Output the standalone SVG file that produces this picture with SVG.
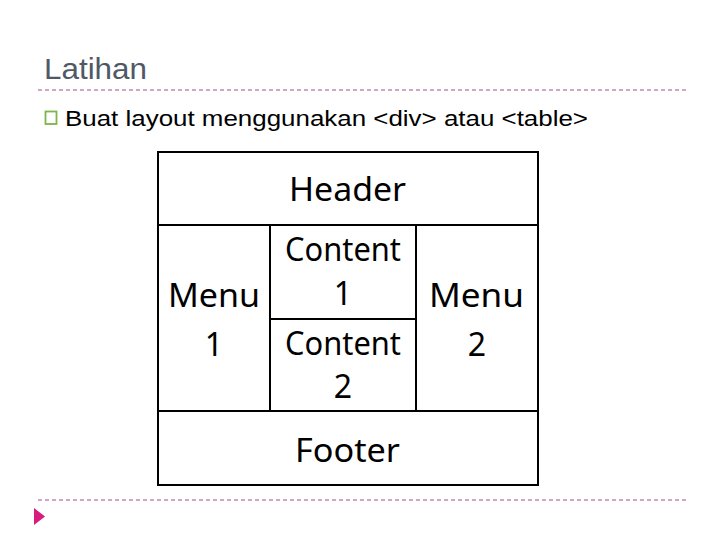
<svg xmlns="http://www.w3.org/2000/svg" width="720" height="540" viewBox="0 0 720 540">
<style>
.cell{fill:#fff;stroke:#000;stroke-width:2}
.t{font-family:"Noto Sans","Open Sans",sans-serif;font-size:32px;fill:#000;text-anchor:middle}
.dash{stroke:#a0508a;stroke-width:1;stroke-dasharray:4 3}
</style>
<rect width="720" height="540" fill="#fff"/>
<text x="44" y="79" font-family="Liberation Sans, Arial, sans-serif" font-size="30" fill="#4f5966" textLength="103" lengthAdjust="spacingAndGlyphs">Latihan</text>
<line class="dash" x1="38" y1="90" x2="686" y2="90"/>
<rect x="45.5" y="111.5" width="11" height="12.5" fill="none" stroke="#7ab648" stroke-width="1.8"/>
<text x="65" y="126" font-family="Liberation Sans, Arial, sans-serif" font-size="22" fill="#000" textLength="523" lengthAdjust="spacingAndGlyphs">Buat layout menggunakan &lt;div&gt; atau &lt;table&gt;</text>
<g id="header"><rect class="cell" x="158" y="152" width="380" height="73"/><text class="t" x="347.5" y="201" textLength="117" lengthAdjust="spacingAndGlyphs">Header</text></g>
<g id="menu1"><rect class="cell" x="158" y="225" width="112" height="186"/><text class="t" x="214" y="307" textLength="92" lengthAdjust="spacingAndGlyphs">Menu</text><text class="t" x="214" y="356">1</text></g>
<g id="content1"><rect class="cell" x="270" y="225" width="146" height="94"/><text class="t" x="343" y="261" textLength="116" lengthAdjust="spacingAndGlyphs">Content</text><text class="t" x="343" y="305">1</text></g>
<g id="content2"><rect class="cell" x="270" y="319" width="146" height="92"/><text class="t" x="343" y="355" textLength="116" lengthAdjust="spacingAndGlyphs">Content</text><text class="t" x="343" y="398">2</text></g>
<g id="menu2"><rect class="cell" x="416" y="225" width="122" height="186"/><text class="t" x="476.5" y="307" textLength="95" lengthAdjust="spacingAndGlyphs">Menu</text><text class="t" x="477" y="356">2</text></g>
<g id="footer"><rect class="cell" x="158" y="411" width="380" height="74"/><text class="t" x="347.5" y="462" textLength="105" lengthAdjust="spacingAndGlyphs">Footer</text></g>
<g id="connectors"></g>
<line class="dash" x1="38" y1="500" x2="686" y2="500"/>
<polygon points="34,508 45,516.5 34,525" fill="#d81b7e"/>
</svg>
